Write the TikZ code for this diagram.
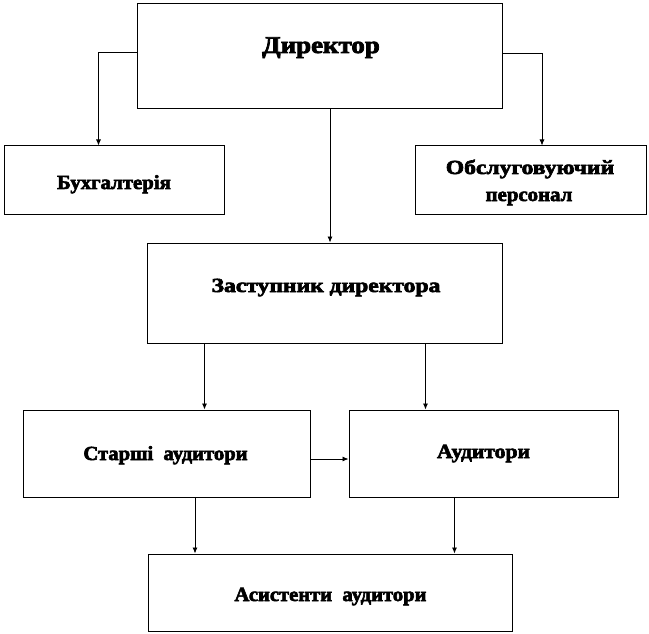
\documentclass[tikz,border=0pt]{standalone}
\usepackage{fontspec}
\setmainfont{Liberation Serif}[BoldFeatures={FakeBold=3}]
\usetikzlibrary{arrows.meta}
\tikzset{
  box/.style={draw=black, line width=1pt, fill=white, inner sep=0pt},
  lbl/.style={inner sep=0pt, anchor=base, font=\bfseries\fontsize{20}{24}\selectfont},
  big/.style={inner sep=0pt, anchor=base, font=\bfseries\fontsize{24}{28}\selectfont},
  arr/.style={draw=black, line width=0.8pt, -{Latex[length=6pt,width=5pt]}},
}
\newcommand{\sx}[2]{\scalebox{#1}[1]{#2}}
\begin{document}
\begin{tikzpicture}[x=1pt,y=1pt]
\useasboundingbox (0,0) rectangle (649,-634);
\fill[white] (0,0) rectangle (649,-634);
% boxes
\node[box, minimum width=365pt, minimum height=104.5pt] (dir) at (320,-56.25) {};
\node[box, minimum width=220.5pt, minimum height=68pt] (buh) at (114.25,-180) {};
\node[box, minimum width=231.5pt, minimum height=68pt] (obs) at (530.75,-180) {};
\node[box, minimum width=355pt, minimum height=100pt] (zas) at (325,-293) {};
\node[box, minimum width=287pt, minimum height=87pt] (st) at (166.5,-453.5) {};
\node[box, minimum width=269pt, minimum height=87pt] (aud) at (483.5,-453.5) {};
\node[box, minimum width=364pt, minimum height=77pt] (as) at (330,-592.5) {};
% labels
\node[big] (dirT) at (321,-53) {\sx{1.12}{Директор}};
\node[lbl] (buhT) at (114,-189) {\sx{1.04}{Бухгалтерія}};
\node[lbl] (obsT1) at (530,-174) {\sx{1.18}{Обслуговуючий}};
\node[lbl] (obsT2) at (529,-201) {\sx{1.04}{персонал}};
\node[lbl] (zasT) at (326,-292) {\sx{1.18}{Заступник директора}};
\node[lbl] (stT) at (165.5,-460) {\sx{1.03}{Старші\ \ аудитори}};
\node[lbl] (audT) at (483.5,-458) {\sx{1.08}{Аудитори}};
\node[lbl] (asT) at (330.5,-601) {\sx{1.03}{Асистенти\ \ аудитори}};
% connectors
\draw[arr] (dir.west |- 0,-52) -| (buh.north -| 98.5,0);
\draw[arr] (dir.east |- 0,-53) -| (obs.north -| 542,0);
\draw[arr] (dir.south -| 330,0) -- (zas.north -| 330,0);
\draw[arr] (zas.south -| 204.5,0) -- (st.north -| 204.5,0);
\draw[arr] (zas.south -| 425.5,0) -- (aud.north -| 425.5,0);
\draw[arr] (st.east |- 0,-459) -- (aud.west |- 0,-459);
\draw[arr] (st.south -| 195,0) -- (as.north -| 195,0);
\draw[arr] (aud.south -| 454.5,0) -- (as.north -| 454.5,0);
\end{tikzpicture}
\end{document}
